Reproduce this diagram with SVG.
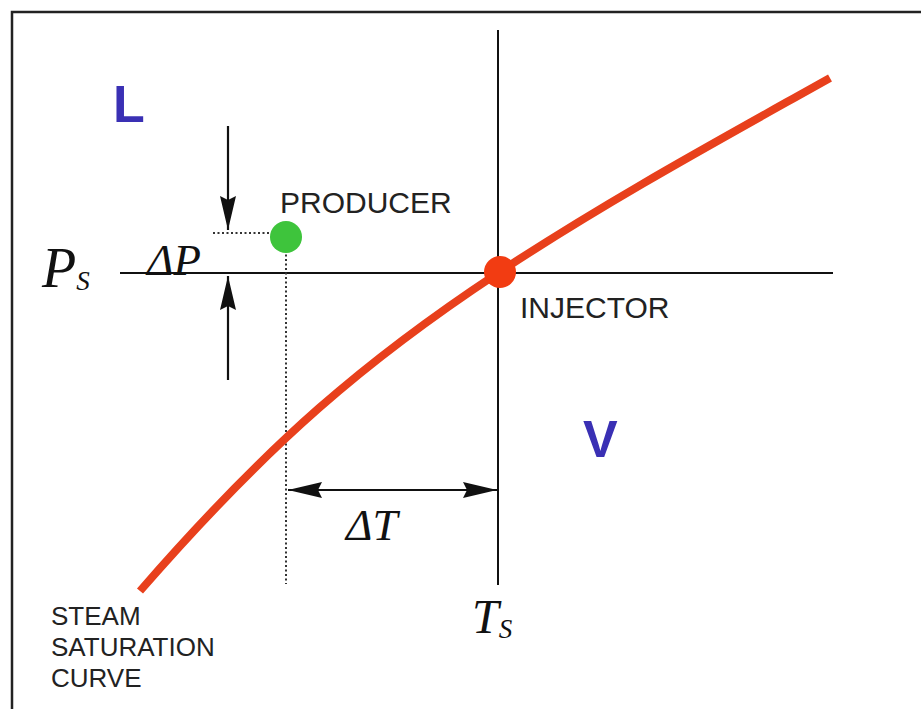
<svg xmlns="http://www.w3.org/2000/svg" width="921" height="709" viewBox="0 0 921 709">
<style>
.axis{stroke:#111;stroke-width:2;fill:none}
.dot{stroke:#333;stroke-width:2;stroke-dasharray:2 2.5;fill:none}
.arr{stroke:#111;stroke-width:2.2;fill:none}
.sans{font-family:"Liberation Sans",Arial,sans-serif;fill:#222}
.phase{font-family:"Liberation Sans",Arial,sans-serif;font-weight:bold;fill:#3a30b4;font-size:52px}
.math{font-family:"Liberation Serif","Times New Roman",serif;font-style:italic;fill:#111}
</style>
<defs>
<marker id="ah" viewBox="0 0 34 16" refX="34" refY="8" markerWidth="34" markerHeight="16" markerUnits="userSpaceOnUse" orient="auto-start-reverse">
<path d="M0,0 L34,8 L0,16 L4,8 Z" fill="#111"/>
</marker>
</defs>
<rect width="921" height="709" fill="#fff"/>
<g id="frame">
<path d="M12,709 L12,12 L921,12" stroke="#222" stroke-width="2.5" fill="none"/>
</g>
<g id="axes">
<line class="axis" x1="498" y1="30" x2="498" y2="585"/>
<line class="axis" x1="120" y1="273" x2="833" y2="273"/>
</g>
<g id="connectors">
<line class="dot" x1="286" y1="250" x2="286" y2="584"/>
<line class="dot" x1="213" y1="233" x2="272" y2="233"/>
<line class="arr" x1="228" y1="126" x2="228" y2="230" marker-end="url(#ah)"/>
<line class="arr" x1="228" y1="380" x2="228" y2="276" marker-end="url(#ah)"/>
<line class="arr" x1="288" y1="490" x2="497" y2="490" marker-start="url(#ah)" marker-end="url(#ah)"/>
</g>
<g id="curve">
<path d="M140,591 C270,441.5 368,358.8 498,273 C608,200.4 720,139.6 830,78" stroke="#e8401c" stroke-width="8" fill="none"/>
</g>
<g id="injector">
<circle cx="500" cy="272" r="16" fill="#f23c12"/>
<text class="sans" x="520" y="318" font-size="30">INJECTOR</text>
</g>
<g id="producer">
<circle cx="286" cy="237" r="16" fill="#3ec43c"/>
<text class="sans" x="280" y="213" font-size="30">PRODUCER</text>
</g>
<g id="labels">
<text class="phase" x="113" y="122">L</text>
<text class="phase" x="583" y="457">V</text>
<text class="sans" font-size="26"><tspan x="51" y="625">STEAM</tspan><tspan x="51" y="656">SATURATION</tspan><tspan x="51" y="687">CURVE</tspan></text>
<text class="math" x="42" y="287" font-size="56">P<tspan font-size="27" dy="3">S</tspan></text>
<text class="math" x="147" y="275" font-size="45">ΔP</text>
<text class="math" x="346" y="540" font-size="45">ΔT</text>
<text class="math" x="472" y="633" font-size="48">T<tspan font-size="27" dy="5">S</tspan></text>
</g>
</svg>
